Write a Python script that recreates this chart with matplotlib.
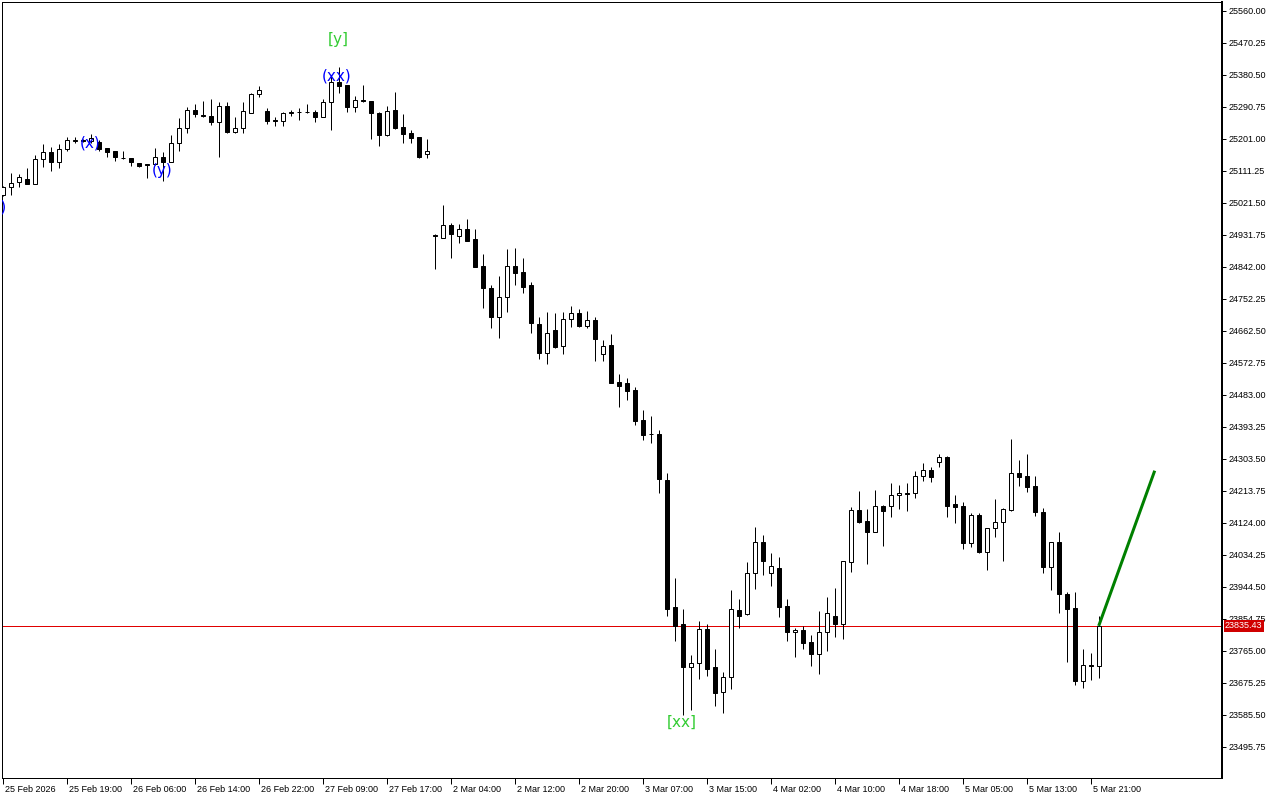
import matplotlib
matplotlib.use("Agg")
import matplotlib.pyplot as plt
from matplotlib.transforms import ScaledTranslation, blended_transform_factory

# ---------------- data (hourly candles, bar index 0..137) ----------------
opens = [25044.8, 25065.5, 25080.4, 25088.8, 25075.6, 25144.1, 25163.7, 25137.3, 25172.1, 25196.2,
         25197.0, 25195.4, 25193.4, 25174.9, 25167.3, 25149.0, 25147.7, 25133.7, 25130.5, 25130.0,
         25149.7, 25137.3, 25188.9, 25231.0, 25282.3, 25268.0, 25265.5, 25249.5, 25293.6, 25221.5,
         25231.0, 25274.8, 25326.4, 25279.5, 25253.0, 25252.3, 25274.5, 25276.0, 25278.0, 25275.9,
         25263.5, 25303.9, 25361.7, 25352.5, 25291.6, 25309.5, 25306.7, 25274.8, 25212.2, 25282.3,
         25233.8, 25218.7, 25205.8, 25158.1, 24930.5, 24924.2, 24959.8, 24929.8, 24947.7, 24919.7,
         24844.8, 24782.3, 24702.6, 24757.0, 24843.9, 24828.0, 24790.7, 24682.1, 24601.6, 24664.5,
         24619.6, 24695.3, 24712.1, 24677.3, 24693.4, 24597.7, 24623.2, 24518.6, 24515.8, 24497.1,
         24412.9, 24374.5, 24373.5, 24244.6, 23887.5, 23840.7, 23719.3, 23732.2, 23825.8, 23719.3,
         23650.8, 23690.8, 23880.0, 23867.9, 23982.9, 24069.9, 23982.9, 23997.0, 23891.2, 23817.5,
         23823.9, 23789.2, 23757.4, 23817.5, 23864.0, 23839.9, 24015.4, 24160.5, 24129.6, 24099.6,
         24171.7, 24172.5, 24202.5, 24208.0, 24207.2, 24255.8, 24272.6, 24294.2, 24310.0, 24177.3,
         24171.7, 24068.7, 24146.4, 24043.5, 24109.1, 24127.3, 24160.5, 24263.4, 24255.8, 24227.7,
         24154.0, 23999.8, 24069.9, 23924.0, 23884.7, 23680.8, 23725.0, 23723.6]
highs = [25069.2, 25104.8, 25102.8, 25118.8, 25156.1, 25187.0, 25177.7, 25187.0, 25205.8, 25205.8,
         25200.0, 25215.0, 25198.2, 25175.5, 25168.0, 25168.2, 25148.5, 25134.0, 25131.0, 25174.9,
         25163.7, 25212.2, 25259.1, 25291.6, 25298.3, 25308.4, 25313.2, 25305.6, 25305.6, 25261.9,
         25305.6, 25329.0, 25349.7, 25288.8, 25261.9, 25277.6, 25282.3, 25287.1, 25299.2, 25282.3,
         25312.3, 25380.5, 25402.1, 25353.0, 25321.6, 25352.5, 25307.0, 25277.6, 25293.6, 25332.0,
         25270.3, 25226.2, 25206.5, 25201.0, 24933.7, 25015.9, 24964.6, 24962.6, 24976.6, 24947.7,
         24878.5, 24791.5, 24816.8, 24892.5, 24895.3, 24867.2, 24799.1, 24702.6, 24716.6, 24713.8,
         24716.6, 24733.5, 24724.2, 24719.3, 24702.6, 24637.2, 24654.1, 24541.9, 24529.8, 24504.6,
         24440.9, 24424.1, 24384.8, 24263.4, 23968.9, 23882.7, 23753.8, 23849.1, 23840.7, 23770.6,
         23706.0, 23936.1, 23910.8, 24013.8, 24111.9, 24090.4, 24039.0, 24027.8, 23910.0, 23828.7,
         23836.0, 23809.9, 23877.1, 23915.6, 23940.8, 24018.0, 24169.7, 24214.6, 24163.2, 24216.6,
         24174.5, 24237.0, 24230.6, 24235.3, 24270.7, 24291.4, 24280.2, 24317.5, 24310.5, 24202.5,
         24183.7, 24152.9, 24151.2, 24109.5, 24191.3, 24165.0, 24359.6, 24300.7, 24317.5, 24255.8,
         24165.2, 24070.5, 24097.9, 23931.3, 23929.6, 23770.6, 23758.5, 23863.9]
lows = [25041.1, 25044.8, 25067.2, 25073.9, 25073.9, 25123.3, 25112.1, 25120.5, 25168.2, 25188.9,
        25192.0, 25188.9, 25168.2, 25149.7, 25140.1, 25145.7, 25126.1, 25121.6, 25092.5, 25128.1,
        25084.0, 25137.0, 25168.2, 25218.7, 25263.5, 25263.5, 25240.3, 25151.4, 25218.7, 25217.0,
        25217.0, 25273.0, 25319.6, 25243.1, 25238.3, 25238.3, 25266.3, 25254.3, 25274.8, 25247.8,
        25261.9, 25226.2, 25330.9, 25277.6, 25277.6, 25303.9, 25201.0, 25181.4, 25209.4, 25228.2,
        25188.9, 25188.9, 25148.6, 25148.6, 24836.4, 24924.0, 24868.1, 24908.5, 24915.5, 24841.1,
        24726.2, 24671.8, 24643.7, 24716.6, 24791.5, 24768.2, 24657.7, 24583.1, 24569.1, 24614.0,
        24597.7, 24674.6, 24674.6, 24671.8, 24579.2, 24579.2, 24517.0, 24450.2, 24468.9, 24398.9,
        24356.8, 24349.2, 24209.0, 23862.2, 23793.8, 23585.5, 23599.5, 23686.5, 23695.7, 23610.7,
        23590.2, 23658.4, 23830.4, 23866.0, 23938.9, 23978.2, 23948.2, 23859.5, 23793.1, 23747.3,
        23769.8, 23723.8, 23700.5, 23765.8, 23805.1, 23797.8, 23987.5, 24123.2, 24008.2, 24098.0,
        24060.3, 24141.6, 24163.2, 24158.5, 24195.0, 24242.6, 24239.8, 24281.9, 24141.6, 24124.8,
        24051.1, 24056.5, 24040.7, 23992.2, 24085.6, 24018.2, 24158.5, 24228.6, 24211.8, 24143.6,
        23984.6, 23936.1, 23872.4, 23735.0, 23669.6, 23662.0, 23684.7, 23688.5]
closes = [25065.5, 25076.7, 25093.6, 25075.6, 25144.1, 25163.7, 25137.3, 25172.1, 25197.4, 25197.0,
          25195.5, 25204.6, 25172.1, 25165.4, 25149.7, 25147.5, 25135.6, 25125.3, 25129.0, 25151.4,
          25137.3, 25188.9, 25231.0, 25282.3, 25270.3, 25266.0, 25249.5, 25293.6, 25221.5, 25231.0,
          25279.5, 25327.2, 25337.6, 25251.5, 25251.0, 25273.1, 25275.5, 25277.0, 25276.0, 25263.5,
          25303.9, 25361.7, 25350.5, 25291.6, 25309.5, 25307.5, 25273.1, 25212.2, 25279.5, 25231.0,
          25215.0, 25204.6, 25151.4, 25167.3, 24929.0, 24959.8, 24933.7, 24947.7, 24915.8, 24842.8,
          24782.3, 24702.6, 24757.0, 24843.9, 24826.0, 24786.7, 24684.1, 24600.0, 24656.0, 24618.5,
          24696.2, 24712.1, 24677.3, 24693.4, 24640.9, 24620.4, 24517.5, 24509.1, 24495.1, 24410.9,
          24371.7, 24373.5, 24246.6, 23881.9, 23835.1, 23721.0, 23730.5, 23825.8, 23714.5, 23648.0,
          23690.8, 23881.9, 23864.0, 23982.9, 24069.9, 24018.2, 24004.2, 23889.3, 23819.1, 23823.1,
          23788.3, 23757.4, 23817.5, 23870.8, 23839.9, 24017.4, 24160.5, 24127.3, 24099.6, 24171.7,
          24158.5, 24202.5, 24208.9, 24206.5, 24255.8, 24272.6, 24253.8, 24308.3, 24172.5, 24169.7,
          24068.7, 24146.4, 24043.5, 24109.1, 24125.9, 24163.2, 24263.4, 24253.8, 24224.1, 24155.7,
          23999.8, 24069.9, 23924.0, 23881.9, 23681.7, 23725.7, 23723.6, 23835.43]

current_price = 23835.43

x_tick_bars = [0, 8, 16, 24, 32, 40, 48, 56, 64, 72, 80, 88, 96, 104, 112, 120, 128, 136]
x_tick_labels = ["25 Feb 2026", "25 Feb 19:00", "26 Feb 06:00", "26 Feb 14:00", "26 Feb 22:00",
                 "27 Feb 09:00", "27 Feb 17:00", "2 Mar 04:00", "2 Mar 12:00", "2 Mar 20:00",
                 "3 Mar 07:00", "3 Mar 15:00", "4 Mar 02:00", "4 Mar 10:00", "4 Mar 18:00",
                 "5 Mar 05:00", "5 Mar 13:00", "5 Mar 21:00"]
y_ticks = [25560.00, 25470.25, 25380.50, 25290.75, 25201.00, 25111.25, 25021.50, 24931.75,
           24842.00, 24752.25, 24662.50, 24572.75, 24483.00, 24393.25, 24303.50, 24213.75,
           24124.00, 24034.25, 23944.50, 23854.75, 23765.00, 23675.25, 23585.50, 23495.75]

# projection line (bar, price)
proj_bars = [137, 144]
proj_prices = [23835.43, 24270.7]

# wave labels: text, bar, price, colour
wave_labels = [
    ("[y]", 42.0, 25478.7, "#33cc33"),
    ("(xx)", 41.8, 25377.7, "#0000ff"),
    ("(x)", 10.9, 25189.8, "#0000ff"),
    ("(y)", 19.9, 25111.3, "#0000ff"),
    ("[xx]", 84.9, 23565.8, "#33cc33"),
    ("(w)", -1.0, 25010.3, "#0000ff"),
]

# ---------------- drawing ----------------
PX = 0.72  # one pixel in points at dpi 100
fig = plt.figure(figsize=(12.8, 8), dpi=100)
fig.patch.set_facecolor("white")
ax = fig.add_axes([2 / 1280, 22 / 800, 1220 / 1280, 776 / 800])
ax.set_xlim(-0.09, 152.41)
ax.set_ylim(23408.8, 25585.2)

bars = list(range(len(opens)))
ax.vlines(bars, lows, highs, color="black", linewidth=PX, zorder=2)
bottoms = [min(o, c) for o, c in zip(opens, closes)]
heights = [max(abs(c - o), 0.5) for o, c in zip(opens, closes)]
faces = ["white" if c >= o else "black" for o, c in zip(opens, closes)]
ax.bar(bars, heights, bottom=bottoms, width=0.5, color=faces, edgecolor="black",
       linewidth=PX, zorder=3)

# current price line
ax.axhline(current_price, color="#e00000", linewidth=PX, zorder=1)

# projection line
ax.plot(proj_bars, proj_prices, color="#008000", linewidth=3 * PX, zorder=4,
        solid_capstyle="butt")

for txt, b, p, col in wave_labels:
    ax.text(b, p, txt, color=col, fontsize=11, ha="center", va="center",
            family="DejaVu Sans", zorder=5, clip_on=True)

# axes / spines
for s in ax.spines.values():
    s.set_linewidth(PX)
    s.set_color("black")
ax.spines["right"].set_linewidth(2 * PX)

ax.yaxis.tick_right()
ax.set_yticks(y_ticks)
ax.set_yticklabels([f"{v:.2f}" for v in y_ticks])
ax.tick_params(axis="y", which="both", direction="out", length=4 * PX, width=PX,
               pad=1.5, labelsize=6.5, colors="black")
for lab in ax.get_yticklabels():
    lab.set_family("Liberation Sans")

ax.set_xticks(x_tick_bars)
ax.set_xticklabels(x_tick_labels)
ax.tick_params(axis="x", which="both", direction="out", length=6 * PX, width=PX,
               pad=0.5, labelsize=6.5, colors="black")
offset = ScaledTranslation(2 / 100, 0, fig.dpi_scale_trans)
for lab in ax.get_xticklabels():
    lab.set_family("Liberation Sans")
    lab.set_horizontalalignment("left")
    lab.set_transform(lab.get_transform() + offset)

# price tag on the right axis
trans = blended_transform_factory(ax.transAxes, ax.transData)
ax.text(1.0 + 3 / 1220, current_price, f"{current_price:.2f}", transform=trans,
        ha="left", va="center", fontsize=6.5, family="Liberation Sans", color="white",
        bbox=dict(boxstyle="square,pad=0.15", facecolor="#d00000", edgecolor="none"),
        zorder=10, clip_on=False)

fig.savefig("out.png", dpi=100, facecolor="white")
